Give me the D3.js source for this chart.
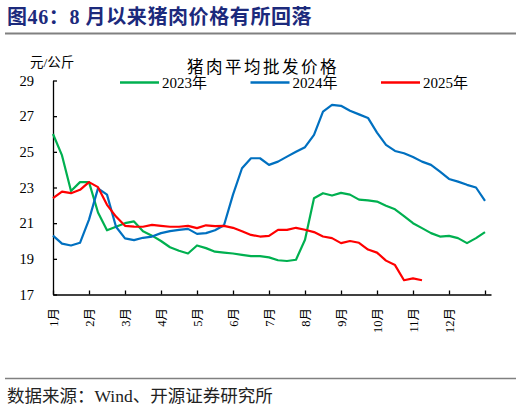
<!DOCTYPE html>
<html>
<head>
<meta charset="utf-8">
<title>猪肉平均批发价格</title>
<script src="https://cdn.jsdelivr.net/npm/d3@7"></script>
<style>
  body { margin: 0; background: #fff; }
  svg { display: block; }
  .serif { font-family: "Liberation Serif", "Noto Sans CJK SC", serif; }
  .cjk { font-family: "Liberation Serif", "Noto Sans CJK SC", sans-serif; }
</style>
</head>
<body>
<svg width="522" height="408"></svg>
<script>
// weekly-ish readings (one value every 7.5 days, starting at day 0)
var step = 7.5;
var years = ["2023年", "2024年", "2025年"];
var colors = ["#00b050", "#0070c0", "#ff0000"];
var months = ["1月","2月","3月","4月","5月","6月","7月","8月","9月","10月","11月","12月"];
var yTicks = [17, 19, 21, 23, 25, 27, 29];

var price2023 = [26.0, 24.8, 22.8, 23.3, 23.3, 21.6, 20.6, 20.8, 21.0, 21.1,
                 20.55, 20.3, 20.0, 19.65, 19.45, 19.3, 19.75, 19.6, 19.4, 19.35,
                 19.3, 19.22, 19.15, 19.15, 19.08, 18.92, 18.88, 18.95, 20.07, 22.4,
                 22.68, 22.55, 22.7, 22.6, 22.32, 22.28, 22.21, 21.98, 21.78, 21.4,
                 21.0, 20.72, 20.44, 20.25, 20.29, 20.16, 19.88, 20.16, 20.5];
var price2024 = [20.3, 19.85, 19.75, 19.9, 21.2, 22.95, 22.6, 20.8, 20.15, 20.05,
                 20.18, 20.25, 20.44, 20.55, 20.62, 20.68, 20.4, 20.44, 20.6, 20.88,
                 22.6, 24.08, 24.64, 24.64, 24.27, 24.45, 24.73, 25.0, 25.26, 25.95,
                 27.25, 27.63, 27.58, 27.3, 27.1, 26.9, 26.08, 25.39, 25.05, 24.92,
                 24.71, 24.45, 24.27, 23.89, 23.48, 23.33, 23.15, 23.0, 22.25];
var price2025 = [22.4, 22.77, 22.68, 22.87, 23.3, 23.02, 22.03, 21.37, 20.85, 20.81,
                 20.8, 20.9, 20.85, 20.8, 20.8, 20.85, 20.72, 20.88, 20.83, 20.85,
                 20.74, 20.55, 20.34, 20.25, 20.29, 20.62, 20.62, 20.74, 20.63, 20.5,
                 20.25, 20.16, 19.88, 20.0, 19.9, 19.52, 19.35, 18.9, 18.65, 17.8,
                 17.9, 17.8];
var series = [price2023, price2024, price2025];

var svg = d3.select("svg");

// header
svg.append("text")
    .attr("x", 7).attr("y", 24)
    .attr("font-family", "'Liberation Serif', 'Noto Sans CJK SC'")
    .attr("font-weight", "bold")
    .attr("font-size", 20)
    .attr("letter-spacing", 0.6)
    .attr("fill", "#1c2a7c")
    .text("图46：8 月以来猪肉价格有所回落");
svg.append("line")
    .attr("x1", 5).attr("x2", 516).attr("y1", 33.5).attr("y2", 33.5)
    .attr("stroke", "#808080").attr("stroke-width", 1.8);

var x = d3.scaleLinear().domain([0, 365]).range([53, 491]);
var y = d3.scaleLinear().domain([17, 29]).range([294.5, 80.5]);

// axes
var yAxis = d3.axisLeft(y).tickValues(yTicks).tickSizeInner(-4).tickSizeOuter(0).tickPadding(19);
var gy = svg.append("g").attr("transform", "translate(" + x(0) + ",0)").call(yAxis);
gy.selectAll("text").attr("class", "serif").attr("font-size", 14.5).attr("fill", "#000");

var xAxis = d3.axisBottom(x)
    .tickValues(d3.range(0, 361, 30))
    .tickSizeInner(-4).tickSizeOuter(0)
    .tickFormat(function(d, i) { return months[i] || ""; });
var gx = svg.append("g").attr("transform", "translate(0," + y(17) + ")").call(xAxis);
gx.selectAll("text")
    .attr("class", "cjk")
    .attr("font-size", 12.5)
    .attr("fill", "#000")
    .attr("transform", "rotate(-90)")
    .attr("text-anchor", "end")
    .attr("x", -13.5).attr("y", 0).attr("dy", "0.35em");

svg.selectAll(".domain, .tick line").attr("stroke", "#000").attr("stroke-width", 1.3);

// lines
var line = d3.line()
    .x(function(d, i) { return x(i * step); })
    .y(function(d) { return y(d); });

svg.selectAll(".series")
    .data(series)
    .enter().append("path")
    .attr("class", "series")
    .attr("fill", "none")
    .attr("stroke", function(d, i) { return colors[i]; })
    .attr("stroke-width", 2.2)
    .attr("stroke-linejoin", "round")
    .attr("d", line);

// labels above the plot
svg.append("text").attr("class", "cjk")
    .attr("x", 30).attr("y", 66.5).attr("font-size", 13.5)
    .text("元/公斤");
svg.append("text").attr("class", "cjk")
    .attr("x", 263).attr("y", 72.5).attr("font-size", 16.5)
    .attr("letter-spacing", 2.5)
    .attr("text-anchor", "middle")
    .text("猪肉平均批发价格");

var legend = svg.selectAll(".legend")
    .data(years)
    .enter().append("g")
    .attr("class", "legend")
    .attr("transform", function(d, i) { return "translate(" + (120 + i * 130.5) + ",82.5)"; });
legend.append("line")
    .attr("x1", 0).attr("x2", 39)
    .attr("stroke", function(d, i) { return colors[i]; })
    .attr("stroke-width", 2.5);
legend.append("text").attr("class", "cjk")
    .attr("x", 42).attr("y", 5.5).attr("font-size", 15)
    .text(function(d) { return d; });

// footer
svg.append("line")
    .attr("x1", 5).attr("x2", 516).attr("y1", 378.5).attr("y2", 378.5)
    .attr("stroke", "#808080").attr("stroke-width", 1.5);
svg.append("text").attr("class", "cjk")
    .attr("x", 7).attr("y", 402).attr("font-size", 17.5)
    .attr("fill", "#222")
    .text("数据来源：Wind、开源证券研究所");
</script>
</body>
</html>
